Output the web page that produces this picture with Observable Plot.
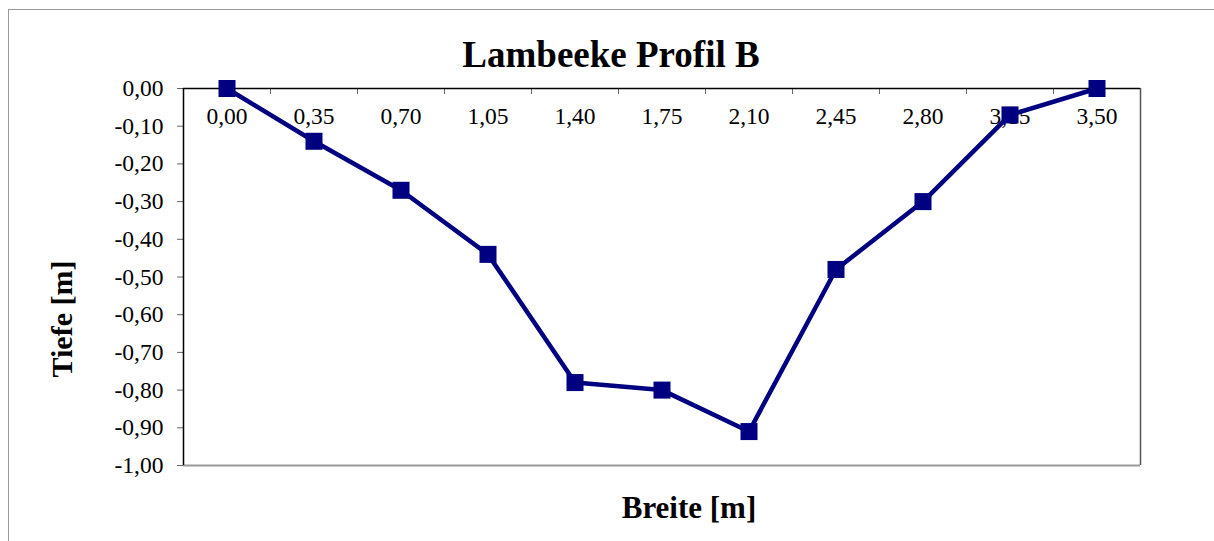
<!DOCTYPE html>
<html>
<head>
<meta charset="utf-8">
<script src="https://cdn.jsdelivr.net/npm/d3@7"></script>
<script src="https://cdn.jsdelivr.net/npm/@observablehq/plot@0.6"></script>
<style>
  html, body { margin: 0; padding: 0; background: #fff; }
  #wrap { position: relative; width: 1214px; height: 541px; overflow: hidden; }
  #outer { position: absolute; left: 8px; top: 9px; width: 1300px; height: 700px;
           border-left: 1px solid #9a9a9a; border-top: 1px solid #9a9a9a; }
  #chart { position: absolute; left: 0; top: 0; }
</style>
</head>
<body>
<div id="wrap"><div id="outer"></div><div id="chart"></div></div>
<script>
const title = "Lambeeke Profil B";
const xLabel = "Breite [m]";
const yLabel = "Tiefe [m]";
const breite = [0, 0.35, 0.70, 1.05, 1.40, 1.75, 2.10, 2.45, 2.80, 3.15, 3.50];
const tiefe = [0, -0.14, -0.27, -0.44, -0.78, -0.80, -0.91, -0.48, -0.30, -0.07, 0];
const yTicks = [0, -0.1, -0.2, -0.3, -0.4, -0.5, -0.6, -0.7, -0.8, -0.9, -1.0];

const fmt = d => (d < -1e-9 ? "-" : "") + Math.abs(d).toFixed(2).replace(".", ",");
const data = breite.map((b, i) => ({breite: b, tiefe: tiefe[i]}));
const step = breite[1] - breite[0];
const xMin = breite[0] - step / 2, xMax = breite[breite.length - 1] + step / 2;
const mids = d3.pairs(breite).map(([a, b]) => (a + b) / 2);

const chart = Plot.plot({
  width: 1214,
  height: 541,
  marginLeft: 183,
  marginTop: 88,
  marginRight: 74,
  marginBottom: 76,
  style: {fontFamily: "'Liberation Serif', 'Times New Roman', serif", color: "#000", background: "transparent"},
  x: {domain: [xMin, xMax], axis: null},
  y: {domain: [-1, 0], axis: null},
  marks: [
    Plot.ruleY([-1], {stroke: "#999", strokeWidth: 2}),
    Plot.ruleX([xMax], {stroke: "#555", strokeWidth: 1.5}),
    Plot.axisY({ticks: yTicks, tickFormat: fmt, tickSize: 6, tickPadding: 14, fontSize: 23.5, stroke: "#666", label: null}),
    Plot.ruleX(mids, {x: d => d, y1: 0, y2: 0, insetBottom: -6, stroke: "#666"}),
    Plot.ruleY([0], {stroke: "#000", strokeWidth: 1.5}),
    Plot.ruleX([xMin], {stroke: "#000", strokeWidth: 1.5}),
    Plot.text(breite, {x: d => d, text: fmt, frameAnchor: "top", lineAnchor: "middle", dy: 28, fontSize: 23.5}),
    Plot.line(data, {x: "breite", y: "tiefe", stroke: "#000080", strokeWidth: 4.5}),
    Plot.dot(data, {x: "breite", y: "tiefe", symbol: "square", r: 9.6, fill: "#000080"}),
    Plot.text([title], {text: d => d, frameAnchor: "top", lineAnchor: "middle", textAnchor: "middle", dx: -51, dy: -33, fontSize: 37, fontWeight: "bold"}),
    Plot.text([yLabel], {text: d => d, frameAnchor: "left", lineAnchor: "middle", textAnchor: "middle", dx: -121, dy: 42, rotate: -90, fontSize: 30, fontWeight: "bold"}),
    Plot.text([xLabel], {text: d => d, frameAnchor: "bottom", lineAnchor: "middle", textAnchor: "middle", dx: 27, dy: 43, fontSize: 31, fontWeight: "bold"})
  ]
});
document.getElementById("chart").appendChild(chart);
</script>
</body>
</html>
